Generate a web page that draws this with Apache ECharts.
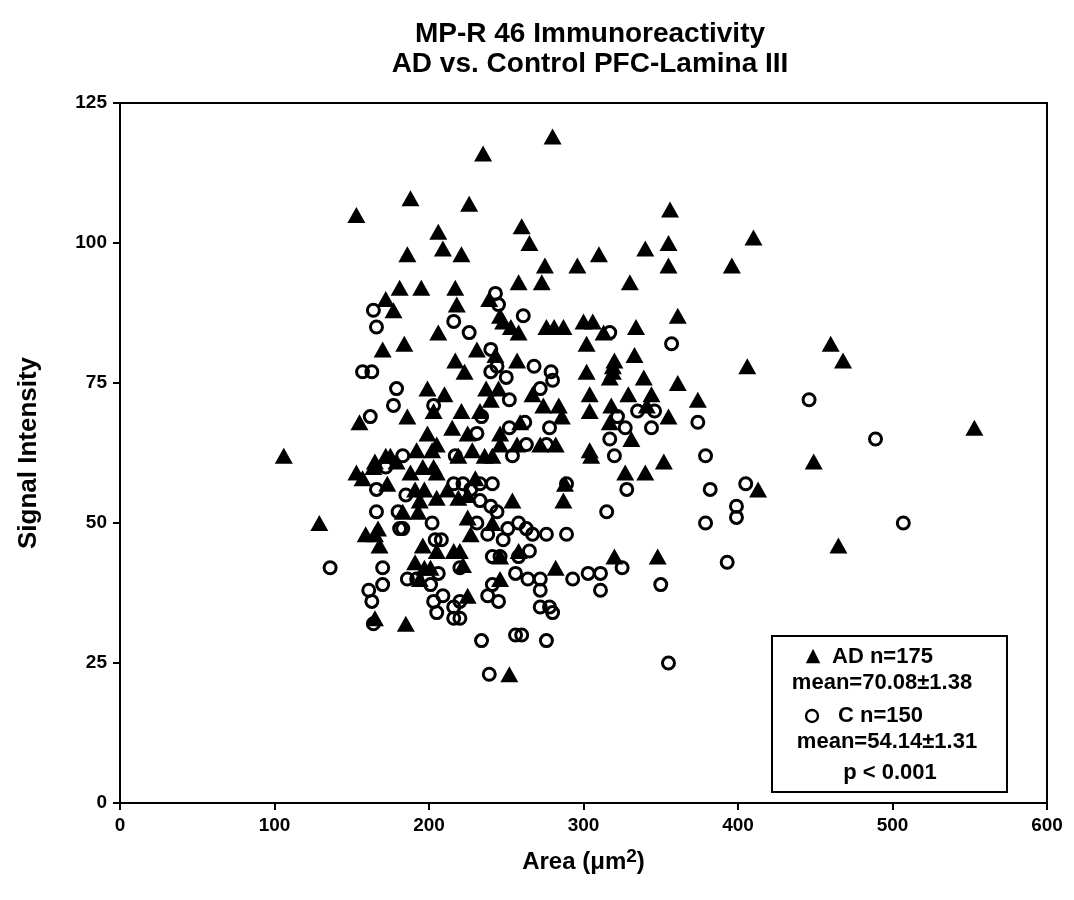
<!DOCTYPE html>
<html>
<head>
<meta charset="utf-8">
<script src="https://cdn.jsdelivr.net/npm/echarts@6/dist/echarts.min.js"></script>
<style>
  html, body { margin: 0; padding: 0; background: #fff; }
  #chart { width: 1074px; height: 900px; }
</style>
</head>
<body>
<div id="chart"></div>
<script>
// AD cases, [area, signal intensity]
var adPoints = [
  [153,105],[188,108],[186,98],[181,92],[280,119],[235,116],[226,107],[206,102],[260,103],[265,100],
  [209,99],[221,98],[275,96],[356,106],[195,92],[217,92],[258,93],[273,93],[218,89],[239,90],
  [246,87],[248,86],[253,85],[258,84],[276,85],[281,85],[287,85],[206,84],[184,82],[231,81],
  [243,80],[217,79],[223,77],[257,79],[199,74],[210,73],[203,70],[186,69],[237,74],[245,74],
  [240,72],[267,73],[274,71],[284,71],[286,69],[221,70],[233,70],[215,67],[199,66],[225,66],
  [246,66],[259,68],[192,63],[202,63],[205,64],[219,62],[228,63],[236,62],[241,62],[246,64],
  [257,64],[272,64],[282,64],[188,59],[196,60],[203,60],[205,59],[183,52],[191,56],[197,56],
  [194,54],[193,52],[205,54.5],[212,56],[219,54.5],[225,55],[230,58],[254,54],[225,51],[227,48],
  [241,50],[246,44],[258,45],[282,42],[196,46],[205,45],[216,45],[220,45],[222,42.5],[191,43],
  [197,42],[201,42],[194,40],[246,40],[225,37],[288,57],[287,54],[185,32],[252,23],[172,90],
  [177,88],[170,81],[155,68],[106,62],[165,61],[172,62],[175,62],[179,61],[164,60],[153,59],
  [157,58],[173,57],[129,50],[159,48],[165,48],[167,49],[168,46],[165,33],[410,101],[396,96],
  [355,100],[355,96],[340,99],[310,98],[296,96],[330,93],[361,87],[300,86],[306,86],[313,84],
  [334,85],[302,82],[333,80],[320,79],[319,78],[319,77],[302,77],[406,78],[460,82],[468,79],
  [339,76],[361,75],[317,76],[304,73],[329,73],[344,73],[374,72],[304,70],[318,71],[317,68],
  [341,71],[355,69],[553,67],[331,65],[304,63],[305,62],[352,61],[449,61],[327,59],[340,59],
  [413,56],[465,46],[320,44],[348,44]
];

// Controls, [area, signal intensity]
var controlPoints = [
  [243,91],[245,89],[261,87],[216,86],[226,84],[240,81],[244,78],[240,77],[250,76],[268,78],
  [279,77],[280,75.5],[203,71],[252,72],[272,74],[234,69],[252,67],[262,68],[278,67],[231,66],
  [183,62],[217,62],[254,62],[263,64],[276,64],[185,55],[216,57],[222,57],[227,56],[233,57],
  [241,57],[233,54],[240,53],[244,52],[202,50],[183,49],[231,50],[238,48],[248,47],[251,49],
  [258,50],[263,49],[267,48],[276,48],[241,44],[246,44],[258,44],[265,45],[208,47],[204,47],
  [220,42],[186,40],[192,40],[201,39],[206,41],[203,36],[209,37],[241,39],[238,37],[245,36],
  [256,41],[264,40],[272,40],[272,38],[220,36],[272,35],[278,35],[205,34],[216,33],[220,33],
  [216,35],[280,34],[234,29],[256,30],[260,30],[276,29],[239,23],[164,88],[166,85],[157,77],
  [163,77],[179,74],[177,71],[162,69],[172,60],[166,56],[166,52],[180,52],[181,49],[136,42],
  [170,42],[170,39],[161,38],[163,36],[164,32],[317,84],[357,82],[446,72],[322,69],[335,70],
  [346,70],[374,68],[327,67],[344,67],[489,65],[317,65],[320,62],[379,62],[328,56],[382,56],
  [289,57],[405,57],[315,52],[399,53],[399,51],[379,50],[507,50],[289,48],[325,42],[393,43],
  [293,40],[303,41],[311,41],[311,38],[350,39],[355,25]
];

var titleLines = ['MP-R 46 Immunoreactivity', 'AD vs. Control PFC-Lamina III'];
var legendLines = ['AD n=175', 'mean=70.08\u00b11.38', 'C n=150', 'mean=54.14\u00b11.31', 'p < 0.001'];

var font = '"Liberation Sans", Arial, sans-serif';
var chart = echarts.init(document.getElementById('chart'));

chart.setOption({
  backgroundColor: '#fff',
  animation: false,
  title: {
    text: titleLines.join('\n'),
    left: 585,
    textAlign: 'center',
    top: 14,
    textStyle: { fontFamily: font, fontWeight: 'bold', fontSize: 28, lineHeight: 30, color: '#000' }
  },
  grid: {
    left: 120, right: 27, top: 103, bottom: 97,
    show: true, borderColor: '#000', borderWidth: 2, backgroundColor: 'transparent'
  },
  xAxis: {
    type: 'value', min: 0, max: 600, interval: 100,
    name: 'Area (\u03bcm{sup|2})',
    nameLocation: 'middle', nameGap: 44,
    nameTextStyle: {
      fontFamily: font, fontWeight: 'bold', fontSize: 24, color: '#000',
      rich: { sup: { fontFamily: font, fontWeight: 'bold', fontSize: 19, verticalAlign: 'top', padding: [0, 0, 12, 0] } }
    },
    axisLine: { lineStyle: { color: '#000', width: 2 } },
    axisTick: { inside: false, length: 7, lineStyle: { color: '#000', width: 2 } },
    axisLabel: { margin: 13, fontFamily: font, fontWeight: 'bold', fontSize: 19, color: '#000' },
    splitLine: { show: false }
  },
  yAxis: {
    type: 'value', min: 0, max: 125, interval: 25,
    name: 'Signal Intensity',
    nameLocation: 'middle', nameGap: 78, nameRotate: 90,
    nameTextStyle: { fontFamily: font, fontWeight: 'bold', fontSize: 26, color: '#000' },
    axisLine: { lineStyle: { color: '#000', width: 2 } },
    axisTick: { inside: false, length: 7, lineStyle: { color: '#000', width: 2 } },
    axisLabel: { margin: 13, fontFamily: font, fontWeight: 'bold', fontSize: 19, color: '#000' },
    splitLine: { show: false }
  },
  series: [
    {
      name: 'AD', type: 'scatter', data: adPoints,
      symbol: 'triangle', symbolSize: [18, 16],
      itemStyle: { color: '#000', opacity: 1 }
    },
    {
      name: 'C', type: 'scatter', data: controlPoints,
      symbol: 'circle', symbolSize: 12,
      itemStyle: { color: 'rgba(255,255,255,0)', borderColor: '#000', borderWidth: 3, opacity: 1 }
    }
  ],
  graphic: [
    { type: 'rect', shape: { x: 772, y: 636, width: 235, height: 156 },
      style: { fill: '#fff', stroke: '#000', lineWidth: 2 } },
    { type: 'text', x: 813, y: 656, style: { text: '\u25b2', font: 'bold 19px "DejaVu Sans"', fill: '#000', textAlign: 'center', textVerticalAlign: 'middle' } },
    { type: 'text', x: 832, y: 657, style: { text: legendLines[0], font: 'bold 22px ' + font, fill: '#000', textAlign: 'left', textVerticalAlign: 'middle' } },
    { type: 'text', x: 882, y: 683, style: { text: legendLines[1], font: 'bold 22px ' + font, fill: '#000', textAlign: 'center', textVerticalAlign: 'middle' } },
    { type: 'circle', shape: { cx: 812, cy: 716, r: 6 }, style: { fill: 'none', stroke: '#000', lineWidth: 2.4 } },
    { type: 'text', x: 838, y: 716, style: { text: legendLines[2], font: 'bold 22px ' + font, fill: '#000', textAlign: 'left', textVerticalAlign: 'middle' } },
    { type: 'text', x: 887, y: 742, style: { text: legendLines[3], font: 'bold 22px ' + font, fill: '#000', textAlign: 'center', textVerticalAlign: 'middle' } },
    { type: 'text', x: 890, y: 773, style: { text: legendLines[4], font: 'bold 22px ' + font, fill: '#000', textAlign: 'center', textVerticalAlign: 'middle' } }
  ]
});
</script>
</body>
</html>
